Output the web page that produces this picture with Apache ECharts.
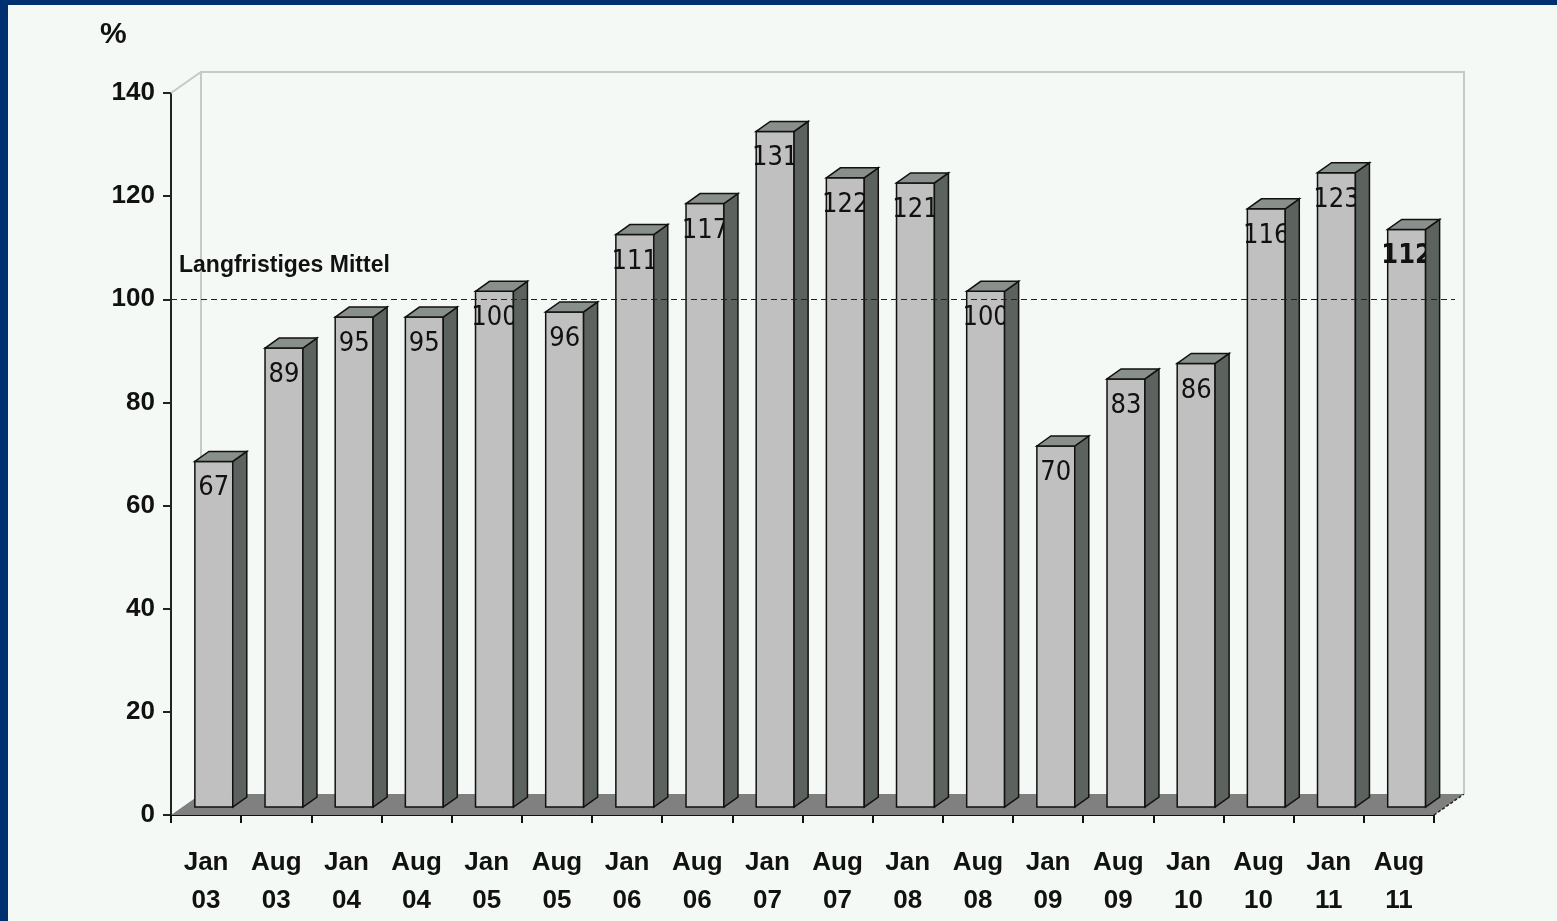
<!DOCTYPE html>
<html>
<head>
<meta charset="utf-8">
<script src="https://cdn.jsdelivr.net/npm/echarts@6/dist/echarts.min.js"></script>
<style>
html,body{margin:0;padding:0;background:#f5f9f6;}
#chart{width:1557px;height:921px;}
</style>
</head>
<body>
<div id="chart"></div>
<script>
const categories = ['Jan\n03','Aug\n03','Jan\n04','Aug\n04','Jan\n05','Aug\n05','Jan\n06','Aug\n06','Jan\n07','Aug\n07','Jan\n08','Aug\n08','Jan\n09','Aug\n09','Jan\n10','Aug\n10','Jan\n11','Aug\n11'];
const values = [67, 89, 95, 95, 100, 96, 111, 117, 131, 122, 121, 100, 70, 83, 86, 116, 123, 112];
const boldLabelIndex = 17;
const longTermMean = 100;
const meanLabel = 'Langfristiges Mittel';
const yUnit = '%';
const yMin = 0, yMax = 140, yStep = 20;

const FONT = "'Liberation Sans', Arial, sans-serif";
const DEPTH_X = 30, DEPTH_Y = 21;

const chart = echarts.init(document.getElementById('chart'), null, {renderer: 'canvas'});

function renderBar(params, api) {
  const i = api.value(0), v = api.value(1);
  const pTop = api.coord([i, v]);
  const pBase = api.coord([i, 0]);
  const band = api.size([1, 0])[0];
  const fw = band * 0.54;
  const sx = band * 0.11, sy = 8;
  const dx = band * 0.2, dy = 10;
  const cx = pTop[0] + sx;
  const l = cx - fw / 2, r = cx + fw / 2;
  const t = pTop[1] - sy, b = pBase[1] - sy;
  const bold = params.dataIndex === boldLabelIndex;
  return {
    type: 'group',
    children: [
      {type: 'rect', shape: {x: l, y: t, width: fw, height: b - t},
       style: {fill: '#c0c0c0', stroke: '#111', lineWidth: 1.5}},
      {type: 'text', style: {text: String(v), x: cx, y: t + 27, align: 'center', verticalAlign: 'middle',
        font: (bold ? 'bold 27px ' : '27px ') + "'DejaVu Sans Condensed', " + FONT, fill: '#111'}},
      {type: 'polygon', shape: {points: [[r, t], [r + dx, t - dy], [r + dx, b - dy], [r, b]]},
       style: {fill: '#5c635e', stroke: '#111', lineWidth: 1.5}},
      {type: 'polygon', shape: {points: [[l, t], [l + dx, t - dy], [r + dx, t - dy], [r, t]]},
       style: {fill: '#898f8a', stroke: '#111', lineWidth: 1.5}}
    ]
  };
}

function renderFloor(params, api) {
  const cs = params.coordSys;
  const x0 = cs.x, y0 = cs.y, w = cs.width, h = cs.height;
  const yb = y0 + h;
  return {
    type: 'group',
    children: [
      {type: 'polygon', shape: {points: [[x0, yb], [x0 + DEPTH_X, yb - DEPTH_Y], [x0 + w + DEPTH_X, yb - DEPTH_Y], [x0 + w, yb]]},
       style: {fill: '#808080'}},
      {type: 'line', shape: {x1: x0 + w, y1: yb, x2: x0 + w + DEPTH_X, y2: yb - DEPTH_Y},
       style: {stroke: '#222', lineWidth: 1.5, lineDash: [3, 2]}},
      {type: 'polyline', shape: {points: [[x0, y0], [x0 + DEPTH_X, y0 - DEPTH_Y], [x0 + w + DEPTH_X, y0 - DEPTH_Y], [x0 + w + DEPTH_X, yb - DEPTH_Y]]},
       style: {stroke: '#c8c8c8', lineWidth: 2, fill: null}},
      {type: 'line', shape: {x1: x0 + DEPTH_X, y1: y0 - DEPTH_Y, x2: x0 + DEPTH_X, y2: yb - DEPTH_Y},
       style: {stroke: '#c8c8c8', lineWidth: 2}}
    ]
  };
}

function renderMean(params, api) {
  const cs = params.coordSys;
  const y = Math.round(api.coord([0, api.value(1)])[1]) + 0.5;
  return {
    type: 'group',
    children: [
      {type: 'line', shape: {x1: cs.x, y1: y, x2: cs.x + cs.width + 21, y2: y},
       style: {stroke: '#222', lineWidth: 1.2, lineDash: [6, 4]}},
      {type: 'text', style: {text: meanLabel, x: cs.x + 8, y: y - 34, align: 'left', verticalAlign: 'middle',
        font: 'bold 23px ' + FONT, fill: '#111'}}
    ]
  };
}

const option = {
  backgroundColor: '#f5f9f6',
  animation: false,
  graphic: [
    {type: 'rect', left: 0, top: 0, shape: {width: 1557, height: 5}, style: {fill: '#003070'}, z: 100},
    {type: 'rect', left: 0, top: 0, shape: {width: 8, height: 921}, style: {fill: '#003070'}, z: 100},
    {type: 'text', left: 100, top: 20, style: {text: yUnit, font: 'bold 30px ' + FONT, fill: '#111'}}
  ],
  grid: {left: 171, right: 123, top: 93, bottom: 106, containLabel: false},
  xAxis: {
    type: 'category',
    data: categories,
    boundaryGap: true,
    axisLine: {show: true, lineStyle: {color: '#111', width: 2}},
    axisTick: {show: true, interval: 0, length: 8, lineStyle: {color: '#111', width: 2}},
    axisLabel: {interval: 0, margin: 29, fontSize: 26, fontWeight: 'bold', fontFamily: FONT, color: '#111', lineHeight: 38},
    splitLine: {show: false}
  },
  yAxis: {
    type: 'value',
    min: yMin, max: yMax, interval: yStep,
    axisLine: {show: true, lineStyle: {color: '#222', width: 2}},
    axisTick: {show: true, length: 8, lineStyle: {color: '#222', width: 2}},
    axisLabel: {margin: 16, fontSize: 26, fontWeight: 'bold', fontFamily: FONT, color: '#111'},
    splitLine: {show: false}
  },
  series: [
    {type: 'custom', name: 'floor', renderItem: renderFloor, data: [[0, 0]], z: 1, silent: true, clip: false},
    {type: 'custom', name: 'bars', renderItem: renderBar, data: values.map((v, i) => [i, v]),
     encode: {x: 0, y: 1}, z: 2, silent: true, clip: false},
    {type: 'custom', name: 'mean', renderItem: renderMean, data: [[0, longTermMean]], z: 3, silent: true, clip: false}
  ]
};
chart.setOption(option);
</script>
</body>
</html>
